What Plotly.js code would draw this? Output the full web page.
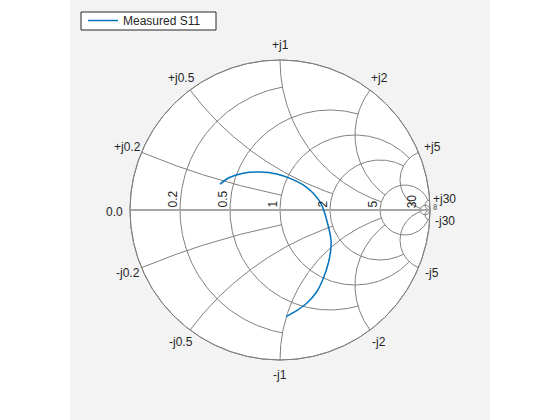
<!DOCTYPE html>
<html>
<head>
<meta charset="utf-8">
<script src="https://cdn.plot.ly/plotly-3.0.1.min.js"></script>
<style>html,body{margin:0;padding:0;background:#fff;}#chart{width:560px;height:420px;}</style>
</head>
<body>
<div id="chart"></div>
<script>
// ---- data: measured reflection coefficient S11 (real / imaginary) ----
const s11Re = [-0.400, -0.333, -0.245, -0.133, -0.022, 0.067, 0.155, 0.222, 0.278, 0.311, 0.340, 0.338, 0.322, 0.289, 0.245, 0.178, 0.111, 0.040];
const s11Im = [0.173, 0.218, 0.245, 0.253, 0.240, 0.211, 0.167, 0.111, 0.033, -0.067, -0.200, -0.267, -0.355, -0.455, -0.545, -0.622, -0.671, -0.711];
const seriesName = 'Measured S11';

// ---- Smith grid values (resistance circles / reactance arcs) and their end limits ----
const rGrid = [0.2, 0.5, 1, 2, 5, 30];
const rGridEnd = [1, 2, 5, 5, 30, Infinity];
const xGrid = [0.2, 0.5, 1, 2, 5, 30];
const xGridEnd = [1, 2, 5, 5, 30, Infinity];
const realTickLabels = ['0.2', '0.5', '1', '2', '5', '30'];
const imagPosLabels = ['+j0.2', '+j0.5', '+j1', '+j2', '+j5', '+j30'];
const imagNegLabels = ['-j0.2', '-j0.5', '-j1', '-j2', '-j5', '-j30'];

function gam(r, x) {
  if (!isFinite(r) || !isFinite(x)) return [1, 0];
  const d = (r + 1) * (r + 1) + x * x;
  return [(r * r - 1 + x * x) / d, 2 * x / d];
}
const N = 240;
const gx = [], gy = [];
// resistance circles
rGrid.forEach((r, i) => {
  const c = r / (1 + r), a = 1 / (1 + r);
  const xe = rGridEnd[i];
  let p1 = 0;
  if (isFinite(xe)) { const g = gam(r, xe); p1 = Math.atan2(g[1], g[0] - c); }
  for (let k = 0; k <= N; k++) {
    const t = p1 + (2 * Math.PI - 2 * p1) * k / N;
    gx.push(c + a * Math.cos(t)); gy.push(a * Math.sin(t));
  }
  gx.push(null); gy.push(null);
});
// reactance arcs
function psiOf(g, cy) {
  let p = Math.atan2(g[1] - cy, g[0] - 1);
  if (p < 0) p += 2 * Math.PI;
  return p;
}
xGrid.forEach((x, i) => {
  const cy = 1 / x, a = 1 / x;
  const re = xGridEnd[i];
  const p0 = psiOf(gam(0, x), cy);
  const p1 = isFinite(re) ? psiOf(gam(re, x), cy) : 1.5 * Math.PI;
  [1, -1].forEach(s => {
    for (let k = 0; k <= N; k++) {
      const t = p0 + (p1 - p0) * k / N;
      gx.push(1 + a * Math.cos(t)); gy.push(s * (cy + a * Math.sin(t)));
    }
    gx.push(null); gy.push(null);
  });
});
// outer circle
const ox = [], oy = [];
for (let k = 0; k <= 720; k++) { const t = 2 * Math.PI * k / 720; ox.push(Math.cos(t)); oy.push(Math.sin(t)); }

const traces = [
  {x: ox, y: oy, mode: 'lines', fill: 'toself', fillcolor: '#ffffff', line: {color: '#808080', width: 1}, showlegend: false, hoverinfo: 'skip'},
  {x: gx, y: gy, mode: 'lines', line: {color: '#808080', width: 1}, showlegend: false, hoverinfo: 'skip', connectgaps: false},
  {x: [-1, 1], y: [0, 0], mode: 'lines', line: {color: '#a6a6a6', width: 2}, showlegend: false, hoverinfo: 'skip'},
  {x: ox, y: oy, mode: 'lines', line: {color: '#808080', width: 1}, showlegend: false, hoverinfo: 'skip'},
  {x: s11Re, y: s11Im, mode: 'lines', name: seriesName, line: {color: '#0072BD', width: 1.5, shape: 'spline', smoothing: 1}, showlegend: true}
];

const font = {family: 'Liberation Sans, Arial, sans-serif', size: 12, color: '#262626'};
const ann = [];
rGrid.forEach((r, i) => {
  ann.push({x: (r - 1) / (r + 1), y: 0, xref: 'x', yref: 'y', text: realTickLabels[i], showarrow: false,
    textangle: -90, xanchor: 'right', yanchor: 'bottom', font: font, xshift: 1});
});
ann.push({x: -1, y: 0, xref: 'x', yref: 'y', text: '0.0', showarrow: false, xanchor: 'right', yanchor: 'middle', xshift: -5, yshift: -2, font: font});
ann.push({x: 1.033, y: 0.02, xref: 'x', yref: 'y', text: '∞', showarrow: false, textangle: -90, font: {family: font.family, size: 9, color: '#262626'}});
xGrid.forEach((x, i) => {
  const th = Math.PI - 2 * Math.atan(x);
  const R = 1.1;
  ann.push({x: R * Math.cos(th), y: R * Math.sin(th), xref: 'x', yref: 'y', text: imagPosLabels[i], showarrow: false, font: font});
  ann.push({x: R * Math.cos(th), y: -R * Math.sin(th), xref: 'x', yref: 'y', text: imagNegLabels[i], showarrow: false, font: font});
});

const layout = {
  width: 560, height: 420,
  margin: {l: 70, r: 70, t: 0, b: 0, pad: 0},
  paper_bgcolor: '#ffffff', plot_bgcolor: '#f3f3f3',
  xaxis: {range: [-1.4, 1.4], visible: false, showgrid: false, zeroline: false, fixedrange: true},
  yaxis: {range: [-1.4, 1.4], visible: false, showgrid: false, zeroline: false, fixedrange: true},
  showlegend: true,
  legend: {x: 13 / 420, y: 1 - 6 / 420, xanchor: 'left', yanchor: 'top', bgcolor: 'rgba(0,0,0,0)', borderwidth: 0, font: font},
  shapes: [{type: 'rect', xref: 'paper', yref: 'paper', x0: 11 / 420, x1: 146 / 420, y0: 1 - 30 / 420, y1: 1 - 12 / 420,
    fillcolor: '#ffffff', line: {color: '#262626', width: 1}, layer: 'above'}],
  annotations: ann,
  font: font
};
Plotly.newPlot('chart', traces, layout, {staticPlot: true, displayModeBar: false});
</script>
</body>
</html>
